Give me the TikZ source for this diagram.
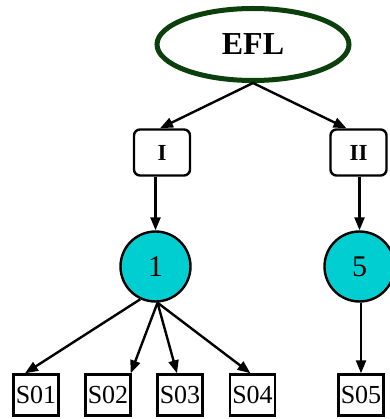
\documentclass[tikz,border=0pt]{standalone}
\usepackage{fontspec}
\setmainfont{Liberation Serif}
\usetikzlibrary{arrows.meta,shapes.geometric}
\definecolor{topgreen}{HTML}{0B3F0B}
\definecolor{factcyan}{HTML}{00CED1}
\tikzset{
  topnode/.style={ellipse,draw=topgreen,line width=5pt,minimum width=192pt,
    minimum height=72pt,font=\fontsize{32}{36}\selectfont\bfseries},
  groupbox/.style={rectangle,rounded corners=6pt,draw,line width=2.4pt,
    minimum width=56pt,minimum height=46pt,font=\fontsize{23}{27}\selectfont\bfseries},
  factor/.style={circle,draw,fill=factcyan,line width=2.4pt,minimum size=70pt,
    inner sep=0pt,font=\fontsize{30}{34}\selectfont},
  itembox/.style={rectangle,draw,line width=2.4pt,minimum width=45pt,
    minimum height=41pt,inner sep=0pt,font=\fontsize{26}{30}\selectfont},
  edge/.style={line width=2.4pt,-{Triangle[length=13pt,width=10pt]}}
}
\begin{document}
\begin{tikzpicture}[x=1pt,y=-1pt]
        \useasboundingbox (0,0) rectangle (389,419);
        \node[topnode] (efl) at (253,44.5) {EFL};
        \node[groupbox] (g1) at (162,152.5) {I};
        \node[groupbox] (g2) at (358.5,152.5) {II};
        \node[factor] (c1) at (155.5,266.5) {1};
        \node[factor] (c5) at (359.5,266.5) {5};
        \node[itembox] (s01) at (36,395) {S01};
        \node[itembox] (s02) at (108,395) {S02};
        \node[itembox] (s03) at (180,395) {S03};
        \node[itembox] (s04) at (252.5,395) {S04};
        \node[itembox] (s05) at (361,395) {S05};
        \draw[edge] (efl.south) -- ([xshift=-2pt]g1.north);
        \draw[edge] (efl.south) -- ([xshift=-12pt]g2.north);
        \draw[edge] (g1.south -| c1.north) -- (c1.north);
        \draw[edge] (g2.south -| c5.north) -- (c5.north);
        \draw[edge] (c1.245) -- ([xshift=-11pt]s01.north);
        \draw[edge] ([xshift=2pt]c1.south) -- ([xshift=-1pt]s02.north east);
        \draw[edge] ([xshift=2pt]c1.south) -- ([xshift=-3pt]s03.north);
        \draw[edge] ([xshift=2pt]c1.south) -- ([xshift=-2pt]s04.north);
        \draw[edge] (c5.south -| s05.north) -- (s05.north);
\end{tikzpicture}
\end{document}
